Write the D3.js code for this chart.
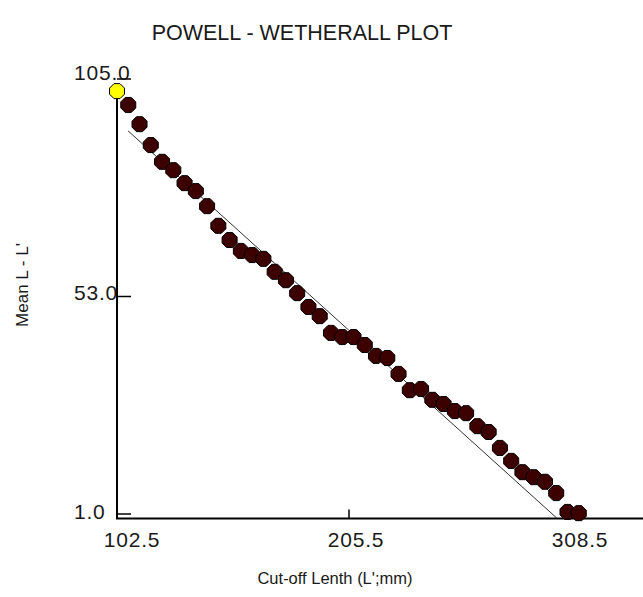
<!DOCTYPE html>
<html>
<head>
<meta charset="utf-8">
<script src="https://cdn.jsdelivr.net/npm/d3@7"></script>
<style>
  html, body { margin: 0; padding: 0; background: #fff; }
  svg { display: block; }
  text { font-family: "Liberation Sans", Arial, sans-serif; fill: #1a1a1a; }
</style>
</head>
<body>
<svg id="chart" width="643" height="597"></svg>
<script>
// Cut-off lengths L' (mm)
const cutoffs = [102.5, 107.5, 112.5, 117.5, 122.5, 127.5, 132.5, 137.5, 142.5, 147.5,
                 152.5, 157.5, 162.5, 167.5, 172.5, 177.5, 182.5, 187.5, 192.5, 197.5,
                 202.5, 207.5, 212.5, 217.5, 222.5, 227.5, 232.5, 237.5, 242.5, 247.5,
                 252.5, 257.5, 262.5, 267.5, 272.5, 277.5, 282.5, 287.5, 292.5, 297.5,
                 302.5, 307.5];
// Mean L - L' for each cut-off
const meanDiff = [102.1, 98.8, 94.2, 89.2, 85.2, 83.2, 80.1, 78.2, 74.6, 69.9,
                  66.5, 63.9, 62.9, 62.0, 58.9, 56.9, 53.8, 50.5, 48.3, 44.3,
                  43.3, 43.3, 41.4, 38.8, 38.3, 34.5, 30.6, 30.9, 28.3, 27.3,
                  25.6, 25.1, 22.0, 20.6, 16.8, 13.7, 11.0, 9.8, 8.7, 6.0,
                  1.5, 1.2];
// Fitted regression line end points (L', Mean L - L')
const fitX = [107.4, 297.8];
const fitY = [92.6, 0.0];
// Axis tick labels
const xTicks = [102.5, 205.5, 308.5];
const yTicks = [1.0, 53.0, 105.0];

const svg = d3.select("#chart");

const x = d3.scaleLinear().domain([102.5, 308.5]).range([117, 581]);
const y = d3.scaleLinear().domain([1, 105]).range([514, 79]);
// tick labels are spread evenly along a slightly shifted band
const xLab = d3.scaleLinear().domain([102.5, 308.5]).range([132, 580]);
const yLab = d3.scaleLinear().domain([1, 105]).range([519, 80]);
const axisY = 518.5;

// Title
svg.append("text")
  .attr("x", 302).attr("y", 40)
  .attr("text-anchor", "middle")
  .style("font-size", "21.5px")
  .text("POWELL - WETHERALL PLOT");

// Axis titles
svg.append("text")
  .attr("x", 335).attr("y", 584)
  .attr("text-anchor", "middle")
  .style("font-size", "16.5px")
  .text("Cut-off Lenth (L';mm)");

svg.append("text")
  .attr("transform", "translate(28,285) rotate(-90)")
  .attr("text-anchor", "middle")
  .style("font-size", "17px")
  .text("Mean L - L'");

// Axes lines
const yTop = y(d3.max(meanDiff));
svg.append("line")
  .attr("x1", x(102.5)).attr("x2", x(102.5))
  .attr("y1", axisY).attr("y2", yTop)
  .attr("stroke", "#000").attr("stroke-width", 2);
svg.append("line")
  .attr("x1", x(102.5) - 1).attr("x2", 643)
  .attr("y1", axisY).attr("y2", axisY)
  .attr("stroke", "#000").attr("stroke-width", 2);

// Y ticks (drawn inward) and labels
svg.selectAll(".ytick").data(yTicks).enter().append("line")
  .attr("class", "ytick")
  .attr("x1", x(102.5)).attr("x2", x(102.5) + 14)
  .attr("y1", d => y(d)).attr("y2", d => y(d))
  .attr("stroke", "#000").attr("stroke-width", 1.5);
svg.selectAll(".ylab").data(yTicks).enter().append("text")
  .attr("class", "ylab")
  .attr("x", 74).attr("y", d => yLab(d))
  .style("font-size", "21px")
  .style("letter-spacing", "0.8px")
  .text(d => d.toFixed(1));

// X ticks (drawn upward) and labels
svg.selectAll(".xtick").data(xTicks).enter().append("line")
  .attr("class", "xtick")
  .attr("x1", d => x(d)).attr("x2", d => x(d))
  .attr("y1", axisY).attr("y2", axisY - 9)
  .attr("stroke", "#000").attr("stroke-width", 1.5);
svg.selectAll(".xlab").data(xTicks).enter().append("text")
  .attr("class", "xlab")
  .attr("x", d => xLab(d)).attr("y", 547)
  .attr("text-anchor", "middle")
  .style("font-size", "21px")
  .style("letter-spacing", "0.8px")
  .text(d => d.toFixed(1));

// Regression line
svg.append("line")
  .attr("x1", x(fitX[0])).attr("y1", y(fitY[0]))
  .attr("x2", x(fitX[1])).attr("y2", y(fitY[1]))
  .attr("stroke", "#333").attr("stroke-width", 1);

// Markers: stubby octagon blobs
const r = 7.5, k = 3;
const blob = `M${-k},${-r}L${k},${-r}L${r},${-k}L${r},${k}L${k},${r}L${-k},${r}L${-r},${k}L${-r},${-k}Z`;
const pts = cutoffs.map((c, i) => ({ x: c, y: meanDiff[i], i }));

svg.selectAll(".pt").data(pts.slice(1)).enter().append("path")
  .attr("class", "pt")
  .attr("d", blob)
  .attr("transform", d => `translate(${x(d.x)},${y(d.y)})`)
  .attr("fill", "#3d0000")
  .attr("stroke", "#000").attr("stroke-width", 1);

svg.append("path")
  .attr("d", blob)
  .attr("transform", `translate(${x(pts[0].x)},${y(pts[0].y)})`)
  .attr("fill", "#ffff00")
  .attr("stroke", "#000").attr("stroke-width", 1);
</script>
</body>
</html>
